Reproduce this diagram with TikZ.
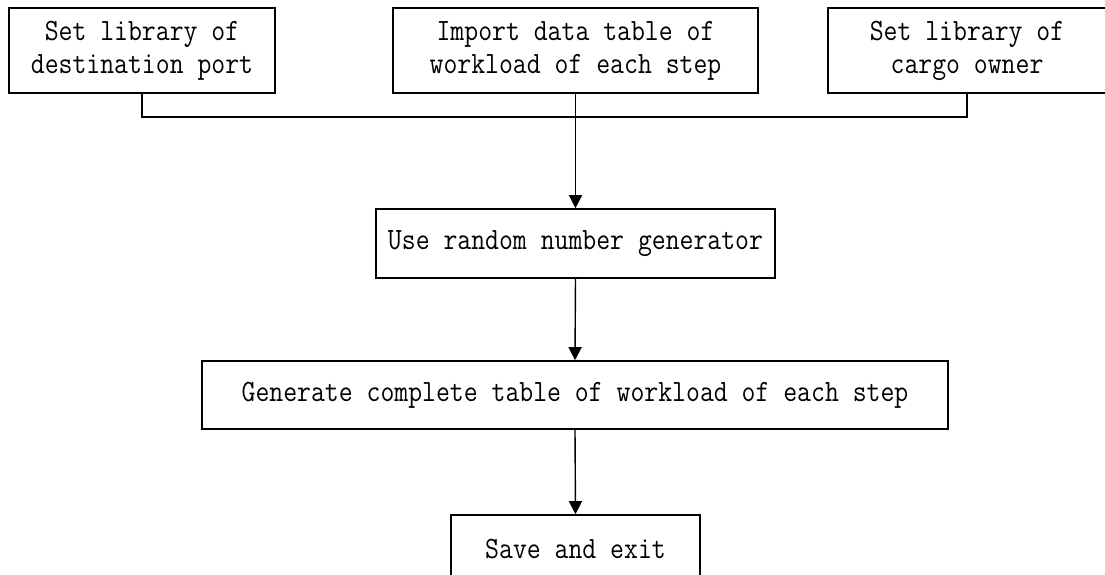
\documentclass[tikz,border=0pt]{standalone}
\usepackage{fontspec}
\usetikzlibrary{arrows.meta}
\newfontfamily\boxfont[FakeStretch=0.87]{Latin Modern Mono}

\begin{document}
\begin{tikzpicture}[x=0.5pt,y=-0.5pt,
    stepbox/.style={draw,line width=0.8pt,inner sep=0pt,align=center,
        font=\boxfont\fontsize{15.5}{16.5}\selectfont},
    flow/.style={line width=0.7pt,-{Triangle[length=6.5pt,width=6.5pt]}}]

\clip (0,0) rectangle (1105,574);

\node[stepbox,minimum width=133pt,minimum height=42.5pt] (destlib) at (142,50.5) {Set library of\\destination port}; % input.0
\node[stepbox,minimum width=182.5pt,minimum height=42.5pt] (importdata) at (575.5,50.5) {Import data table of\\workload of each step}; % input.1
\node[stepbox,minimum width=139pt,minimum height=42.5pt] (ownerlib) at (967,50.5) {Set library of\\cargo owner}; % input.2
\node[stepbox,minimum width=199.5pt,minimum height=34.5pt] (randgen) at (575.5,243.5) {Use random number generator}; % step.1
\node[stepbox,minimum width=373pt,minimum height=34pt] (fulltable) at (575,395) {Generate complete table of workload of each step}; % step.2
\node[stepbox,minimum width=124.5pt,minimum height=34.5pt] (saveexit) at (575.5,549.5) {Save and exit}; % step.3

\coordinate (join) at (575.5,117) ; % join

\draw[line width=0.7pt] (destlib.south) |- (join) -| (ownerlib.south) ;
\draw[flow] (importdata.south) -- (randgen.north) ;
\draw[flow] (randgen.south) -- (fulltable.north) ;
\draw[flow] (fulltable.south) -- (saveexit.north) ;
\end{tikzpicture}
\end{document}
